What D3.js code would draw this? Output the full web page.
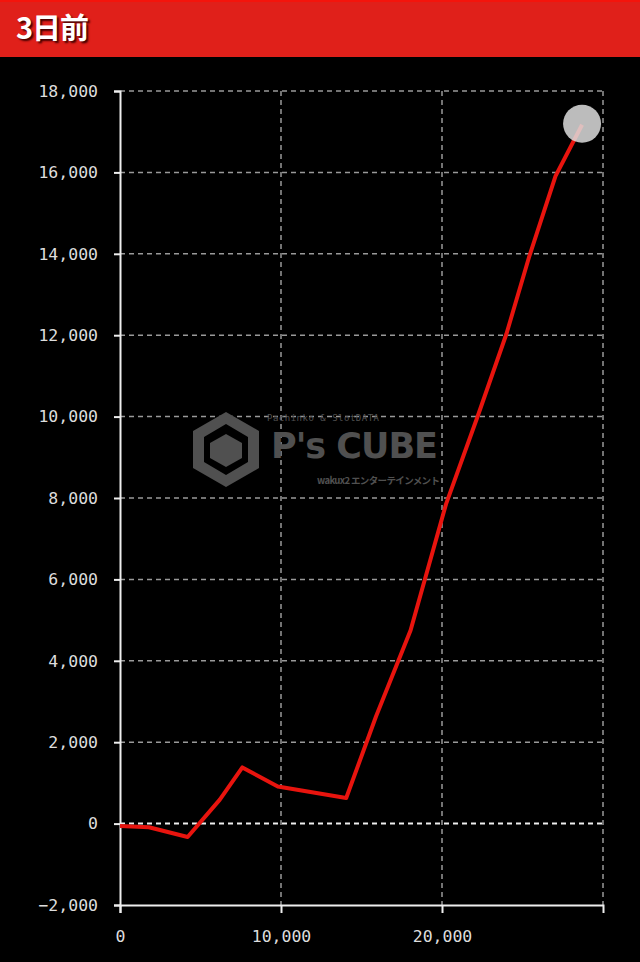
<!DOCTYPE html>
<html>
<head>
<meta charset="utf-8">
<script src="https://cdn.jsdelivr.net/npm/d3@7"></script>
<style>
  body { margin: 0; background: #000; width: 640px; height: 962px; overflow: hidden; }
  .head { height: 55px; background: #e0201a; border-top: 2px solid #f4140c; position: relative; }
  .head span { position: absolute; left: 16px; top: 3px; color: #fff; font: bold 29px "Noto Sans CJK JP", serif;
               text-shadow: 2px 2px 2px #400; letter-spacing: -1px; }
  .tick text { font-family: "DejaVu Sans Mono", monospace; font-size: 16.5px; fill: #ddd; }
</style>
</head>
<body>
<div class="head"><span>3日前</span></div>
<script>
// game count vs. difference
const spins = [0, 1800, 4200, 6200, 7600, 9800, 14050, 15900, 18050, 20250, 22200, 24000, 25400, 27050, 28700];
const diffs = [-60, -90, -330, 590, 1380, 910, 630, 2630, 4750, 7850, 9990, 12030, 13910, 15910, 17170];
const yTicks = [-2000, 0, 2000, 4000, 6000, 8000, 10000, 12000, 14000, 16000, 18000];
const xTicks = [0, 10000, 20000];
const xGrid = [10000, 20000, 30000];

const w = 640, h = 905;
const mTop = 34, mLeft = 120, mRight = 37, mBottom = 57;

var svg = d3.select("body").append("svg")
  .attr("width", w).attr("height", h)
  .style("display", "block");

var x = d3.scaleLinear().domain([0, 30000]).range([mLeft, w - mRight]);
var y = d3.scaleLinear().domain([-2000, 18000]).range([h - mBottom, mTop]);

// grid
svg.append("g").selectAll("line").data(yTicks.filter(d => d > -2000))
  .enter().append("line")
  .attr("x1", mLeft).attr("x2", x(30000))
  .attr("y1", d => y(d)).attr("y2", d => y(d))
  .attr("stroke", d => d == 0 ? "#eee" : "#999")
  .attr("stroke-width", d => d == 0 ? 2 : 1.5)
  .attr("stroke-dasharray", "5,4");

svg.append("g").selectAll("line").data(xGrid)
  .enter().append("line")
  .attr("x1", d => x(d)).attr("x2", d => x(d))
  .attr("y1", y(18000)).attr("y2", y(-2000))
  .attr("stroke", "#999")
  .attr("stroke-width", 1.5)
  .attr("stroke-dasharray", "5,4");

// watermark
var wm = svg.append("g").attr("fill", "#505050");
wm.append("path")
  .attr("d", "M226,355 L259,374 L259,411 L226,430 L193,411 L193,374 Z M226,367 L204,380 L204,405 L226,418 L248,405 L248,380 Z")
  .attr("fill-rule", "evenodd");
wm.append("path").attr("d", "M226,377 L242,386 L242,401 L226,410 L210,401 L210,386 Z");
wm.append("text").attr("x", 267).attr("y", 364).attr("font-size", 9)
  .attr("font-family", "DejaVu Sans Mono").attr("textLength", 112).text("Pachinko & SlotDATA");
wm.append("text").attr("x", 271).attr("y", 401).attr("font-size", 35).attr("font-weight", "bold")
  .attr("font-family", "DejaVu Sans").attr("textLength", 167).text("P's CUBE");
wm.append("text").attr("x", 317).attr("y", 427).attr("font-size", 9.5).attr("font-weight", "bold")
  .attr("font-family", "Noto Sans CJK JP").attr("textLength", 123).text("wakux2 エンターテインメント");

// axes
var yAxis = d3.axisLeft(y).tickValues(yTicks).tickFormat(d3.format(",")).tickSize(6).tickPadding(16);
svg.append("g").attr("transform", "translate(" + mLeft + ",0)").call(yAxis);
var xAxis = d3.axisBottom(x).tickValues(xTicks).tickFormat(d3.format(",")).tickSize(8).tickSizeOuter(8).tickPadding(17);
svg.append("g").attr("transform", "translate(0," + y(-2000) + ")").call(xAxis);
svg.selectAll(".domain").attr("stroke", "#eee").attr("stroke-width", 2);
svg.selectAll(".tick line").attr("stroke", "#eee").attr("stroke-width", 2);

// line
var line = d3.line().x((d, i) => x(spins[i])).y(d => y(d));
svg.append("path").datum(diffs)
  .attr("d", line)
  .attr("fill", "none")
  .attr("stroke", "#e8140e")
  .attr("stroke-width", 4)
  .attr("stroke-linejoin", "round");

// last point marker
svg.append("circle")
  .attr("cx", x(spins[spins.length - 1]))
  .attr("cy", y(diffs[diffs.length - 1]) - 1)
  .attr("r", 19)
  .attr("fill", "#ddd")
  .attr("fill-opacity", 0.85);
</script>
</body>
</html>
